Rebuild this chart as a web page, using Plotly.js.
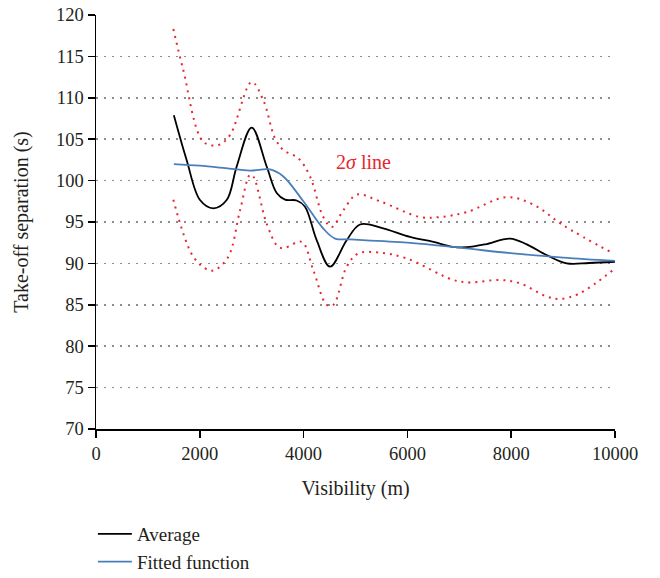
<!DOCTYPE html>
<html><head><meta charset="utf-8">
<script src="https://cdn.plot.ly/plotly-3.0.1.min.js"></script>
<style>body{margin:0;background:#fff}#c{width:660px;height:578px}</style>
</head><body><div id="c"></div>
<script>
const avgX = [1500, 1746, 2004, 2260, 2518, 2711, 3000, 3289, 3482, 3642, 3867, 4027, 4252, 4509, 4830, 5087, 5500, 6050, 6500, 6880, 7143, 7500, 7977, 8300, 8684, 9069, 9500, 10000];
const avgY = [107.9, 102.5, 97.65, 96.65, 97.65, 101.7, 106.4, 101.7, 98.5, 97.7, 97.6, 96.85, 92.8, 89.6, 92.8, 94.7, 94.3, 93.2, 92.6, 92.0, 91.95, 92.3, 93.0, 92.3, 91.0, 90.0, 90.05, 90.2];
const fitX = [1500, 2000, 2500, 2967, 3353, 3610, 3995, 4380, 4605, 4894, 6000, 7000, 8035, 9000, 10000];
const fitY = [102.0, 101.8, 101.5, 101.2, 101.35, 100.5, 97.5, 94.2, 93.0, 92.9, 92.5, 91.9, 91.2, 90.7, 90.3];
const upX = [1490, 1680, 2067, 2357, 2582, 3000, 3224, 3449, 3610, 3898, 4123, 4380, 4540, 4765, 5023, 5472, 6243, 6628, 7143, 7913, 8426, 9004, 9968];
const upY = [118.3, 113.4, 104.7, 104.3, 105.5, 111.9, 109.7, 105.1, 103.7, 102.7, 100.5, 95.6, 94.4, 96.4, 98.3, 97.5, 95.6, 95.6, 96.2, 98.0, 97.1, 94.6, 91.2];
const loX = [1490, 1875, 2164, 2293, 2549, 2775, 2967, 3030, 3288, 3513, 3642, 3963, 4187, 4445, 4573, 4830, 5054, 5472, 5985, 6884, 7206, 7784, 8170, 8684, 8940, 9325, 10000];
const loY = [97.7, 90.8, 89.2, 89.2, 90.8, 96.4, 100.7, 100.5, 94.8, 92.0, 91.9, 92.6, 89.2, 85.0, 85.0, 89.6, 91.2, 91.3, 90.6, 88.0, 87.7, 88.0, 87.6, 86.0, 85.7, 86.4, 89.4];
const xTicks = [0, 2000, 4000, 6000, 8000, 10000];
const yTicks = [70, 75, 80, 85, 90, 95, 100, 105, 110, 115, 120];

const red = '#e8262b';
const txt = '#231f20';
const font = 'Liberation Serif, DejaVu Serif, serif';
const traces = [
  {x: upX, y: upY, mode: 'lines', line: {color: red, width: 2, dash: '2px,5px', shape: 'spline'}, showlegend: false, hoverinfo: 'skip'},
  {x: loX, y: loY, mode: 'lines', line: {color: red, width: 2, dash: '2px,5px', shape: 'spline'}, showlegend: false, hoverinfo: 'skip'},
  {x: avgX, y: avgY, mode: 'lines', name: 'Average', line: {color: '#000', width: 1.8, shape: 'spline'}},
  {x: fitX, y: fitY, mode: 'lines', name: 'Fitted function', line: {color: '#4a7ebb', width: 1.8, shape: 'spline'}}
];
const layout = {
  width: 660, height: 578,
  margin: {l: 96, r: 45, t: 15, b: 149},
  paper_bgcolor: '#fff', plot_bgcolor: '#fff',
  font: {family: font, size: 18.5, color: txt},
  showlegend: true,
  legend: {x: -0.006, xref: 'paper', y: 1 - 515/578, yref: 'container', xanchor: 'left', yanchor: 'top', orientation: 'v',
           font: {family: font, size: 19, color: txt}, itemwidth: 34, bgcolor: 'rgba(0,0,0,0)', tracegroupgap: 0},
  xaxis: {
    range: [0, 10000], tickvals: xTicks, ticktext: xTicks.map(String),
    showgrid: false, zeroline: false, showline: true, linecolor: '#000', linewidth: 1.5,
    ticks: 'outside', ticklen: 7, tickwidth: 1.5, tickcolor: '#000', automargin: false,
    title: {text: 'Visibility (m)', font: {family: font, size: 20, color: txt}, standoff: 18}
  },
  yaxis: {
    range: [70, 120], tickvals: yTicks, ticktext: yTicks.map(String),
    showgrid: true, gridcolor: '#8c8c8c', gridwidth: 1.5, griddash: '1.5px,6.5px',
    zeroline: false, showline: true, linecolor: '#000', linewidth: 1.5, automargin: false,
    ticks: 'outside', ticklen: 7, tickwidth: 1.5, tickcolor: '#000',
    title: {text: 'Take-off separation (s)', font: {family: font, size: 20, color: txt}, standoff: 22}
  },
  annotations: [{x: 5145, y: 102.25, xref: 'x', yref: 'y', text: '2<i>σ</i> line', showarrow: false, font: {family: font, size: 20, color: red}}]
};
Plotly.newPlot('c', traces, layout, {displayModeBar: false, staticPlot: true});
</script></body></html>
